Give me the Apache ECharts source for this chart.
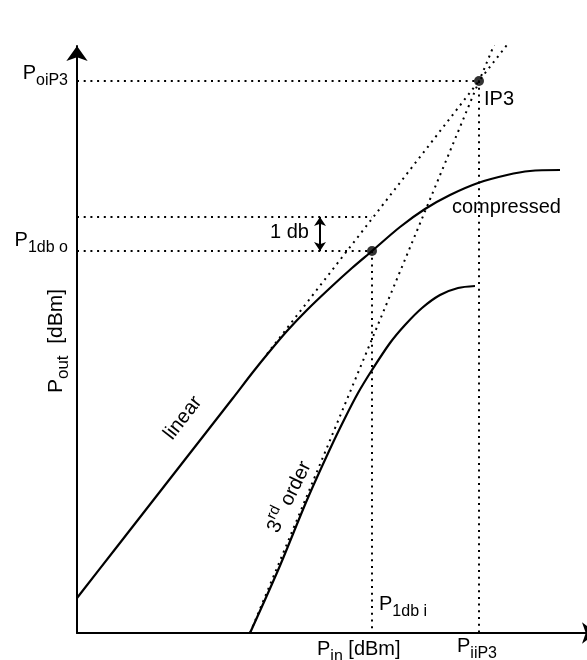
<!DOCTYPE html>
<html>
<head>
<meta charset="utf-8">
<script src="https://cdn.jsdelivr.net/npm/echarts@6/dist/echarts.min.js"></script>
<style>
html,body{margin:0;padding:0;background:#fff;}
#c{width:587px;height:660px;}
</style>
</head>
<body>
<div id="c"></div>
<script>
// ---- data (arbitrary power units: x = Pin, y = Pout) ----
const xMax = 520;
const yMax = 587;
const compressedCurve = [
  [0,35],[39,85],[78,135],[117,185],[156,235],[176,261],[193,282],[210,302],[230,323],[253,345],
  [275,365],[295,382],[323,406],[348,424],[373,438],[401,450],[430,458],[453,462],[483,463]
];
const thirdOrderCurve = [
  [173,0],[202,65],[230,133],[253,184],[268,215],[281,240],[295,263],[313,290],
  [328,308],[345,325],[363,338],[381,345],[398,347]
];
const linearExtension = [[190,279],[433,592]];
const thirdOrderExtension = [[173,0],[432,624]];
const ip3 = [402, 552];
const p1db = [295, 382];
const p1dbUpper = 416;
const arrowX = 243;
const yTickValues = [ip3[1], p1db[1]];
const yTickLabels = ['{p|P}{s|oiP3}', '{p|P}{s|1db o}'];
const xTickValues = [p1db[0], ip3[0]];
const xTickLabels = ['{p|P}{s|1db i}', '{p|P}{s|iiP3}'];
const xAxisName = '{p|P}{s|in}{p| [dBm]}';
const yAxisName = '{q|P}{r|out}{q|  [dBm]}';

const FONT = 'Liberation Sans, Arial, Helvetica, sans-serif';
const BLACK = '#000';
const dotted = {color: BLACK, width: 2, type: [2, 4.7], cap: 'butt'};

const guideSegments = [
  [[0, ip3[1]], ip3],
  [ip3, [ip3[0], 0]],
  [[0, p1dbUpper], [p1db[0], p1dbUpper]],
  [[0, p1db[1]], p1db],
  [p1db, [p1db[0], 0]]
];

const chart = echarts.init(document.getElementById('c'), null, {renderer: 'canvas'});

const lineSeries = (data, style, smooth, z) => ({
  type: 'line', data: data, smooth: smooth, showSymbol: false, symbol: 'none',
  lineStyle: style, silent: true, z: z, animation: false
});

const series = [
  lineSeries(compressedCurve, {color: BLACK, width: 2.2}, 0.3, 5),
  lineSeries(thirdOrderCurve, {color: BLACK, width: 2.2}, 0.3, 5),
  lineSeries(linearExtension, dotted, false, 3),
  lineSeries(thirdOrderExtension, dotted, false, 3)
];
guideSegments.forEach(seg => series.push(lineSeries(seg, dotted, false, 2)));
series.push({
  type: 'line', data: [], silent: true, animation: false,
  markLine: {
    silent: true, animation: false,
    symbol: ['arrow', 'arrow'], symbolSize: [9, 9],
    lineStyle: {color: BLACK, width: 2, type: 'solid'},
    label: {show: false},
    data: [[{coord: [arrowX, p1dbUpper]}, {coord: [arrowX, p1db[1]]}]]
  }
});
series.push({
  type: 'scatter', data: [ip3, p1db], symbolSize: 10, silent: true, z: 10,
  itemStyle: {color: BLACK}, animation: false
});

chart.setOption({
  animation: false,
  backgroundColor: '#fff',
  grid: {left: 77, top: 46, width: 520, height: 587, containLabel: false, outerBoundsMode: 'none'},
  xAxis: {
    type: 'value', min: 0, max: xMax,
    axisLine: {show: true, lineStyle: {color: BLACK, width: 2}, symbol: ['none', 'arrow'], symbolSize: [16, 15]},
    axisTick: {show: false}, axisLabel: {show: false}, splitLine: {show: false}
  },
  yAxis: {
    type: 'value', min: 0, max: yMax,
    axisLine: {show: true, lineStyle: {color: BLACK, width: 2}, symbol: ['none', 'arrow'], symbolSize: [16, 15]},
    axisTick: {show: false}, axisLabel: {show: false}, splitLine: {show: false}
  },
  series: series
});

// ---- text annotations ----
const rich = {
  p: {fontSize: 20, fontFamily: FONT, color: BLACK, verticalAlign: 'top', lineHeight: 20},
  s: {fontSize: 16, fontFamily: FONT, color: BLACK, verticalAlign: 'top', lineHeight: 16, padding: [9, 0, 0, 0]},
  q: {fontSize: 21, fontFamily: FONT, color: BLACK, verticalAlign: 'top', lineHeight: 21},
  r: {fontSize: 17, fontFamily: FONT, color: BLACK, verticalAlign: 'top', lineHeight: 17, padding: [9, 0, 0, 0]},
  t: {fontSize: 20, fontFamily: FONT, color: BLACK, verticalAlign: 'top', lineHeight: 20, padding: [5, 0, 0, 0]},
  u: {fontSize: 15, fontFamily: FONT, color: BLACK, verticalAlign: 'top', lineHeight: 15}
};
const BASE = 16.9; // baseline offset from block top
const px = (p) => chart.convertToPixel({gridIndex: 0}, p);

function label(text, x, baseline, align) {
  return {type: 'text', x: x, y: baseline - BASE, silent: true, z: 100,
    style: {text: text, rich: rich, align: align || 'left', verticalAlign: 'top', fill: BLACK, fontFamily: FONT, fontSize: 20}};
}
function rotLabel(text, cx, cy, rot) {
  return {type: 'text', x: cx, y: cy, rotation: rot, silent: true, z: 100,
    style: {text: text, rich: rich, align: 'center', verticalAlign: 'middle', fill: BLACK, fontFamily: FONT, fontSize: 20}};
}

const origin = px([0, 0]);
const yT0 = px([0, yTickValues[0]]);
const yT1 = px([0, yTickValues[1]]);
const xT0 = px([xTickValues[0], 0]);
const xT1 = px([xTickValues[1], 0]);
const ip3Px = px(ip3);
const arrowPx = px([arrowX, p1dbUpper]);

const graphics = [
  label(yTickLabels[0], origin[0] - 9, yT0[1] - 1, 'right'),
  label(yTickLabels[1], origin[0] - 9, yT1[1] - 3.5, 'right'),
  label(xTickLabels[0], xT0[0] + 7, origin[1] - 22, 'left'),
  label(xTickLabels[1], xT1[0] - 22, origin[1] + 20, 'left'),
  label(xAxisName, xT0[0] - 55, origin[1] + 23, 'left'),
  rotLabel(yAxisName, origin[0] - 21, 341, Math.PI / 2),
  rotLabel('{p|linear}', 183, 418, Math.atan(1.286)),
  rotLabel('{t|3}{u|rd}{t| order}', 285, 495, 1.12),
  label('{p|compressed}', 452, 214, 'left'),
  label('{p|IP3}', ip3Px[0] + 5, ip3Px[1] + 25, 'left'),
  label('{p|1 db}', arrowPx[0] - 50, arrowPx[1] + 22, 'left')
];
chart.setOption({graphic: graphics});
</script>
</body>
</html>
